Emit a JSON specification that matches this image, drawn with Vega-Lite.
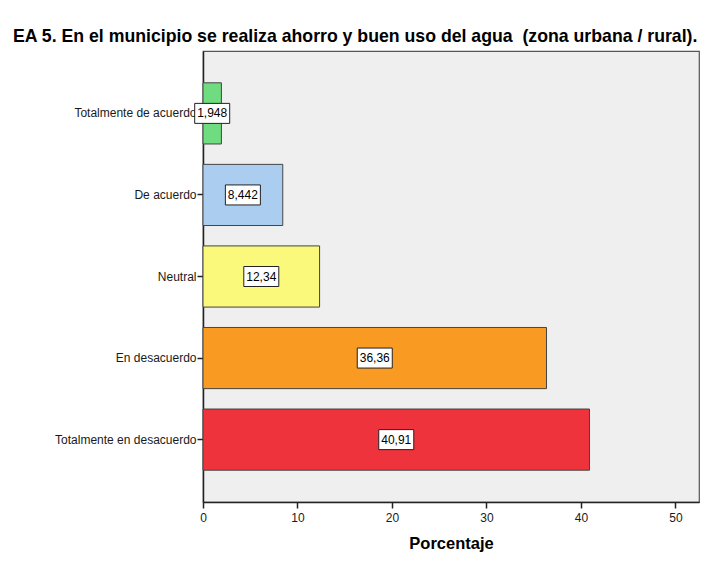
{
  "$schema": "https://vega.github.io/schema/vega-lite/v6.json",
  "autosize": "none",
  "width": 496,
  "height": 451,
  "padding": {"left": 203, "top": 51, "right": 3, "bottom": 63},
  "background": "white",
  "title": {
    "text": "EA 5. En el municipio se realiza ahorro y buen uso del agua \u00a0(zona urbana / rural).",
    "anchor": "start",
    "frame": "group",
    "dx": -190,
    "dy": 19,
    "offset": 10,
    "baseline": "alphabetic",
    "font": "Liberation Sans",
    "fontSize": 17.7,
    "fontWeight": "bold",
    "color": "#000000"
  },
  "config": {
    "view": {"fill": "#efefef", "stroke": "#555555", "strokeWidth": 1.2},
    "font": "Liberation Sans"
  },
  "data": {
    "values": [
      {"respuesta": "Totalmente de acuerdo", "porcentaje": 1.948, "etiqueta": "1,948"},
      {"respuesta": "De acuerdo", "porcentaje": 8.442, "etiqueta": "8,442"},
      {"respuesta": "Neutral", "porcentaje": 12.34, "etiqueta": "12,34"},
      {"respuesta": "En desacuerdo", "porcentaje": 36.36, "etiqueta": "36,36"},
      {"respuesta": "Totalmente en desacuerdo", "porcentaje": 40.91, "etiqueta": "40,91"}
    ]
  },
  "encoding": {
    "y": {
      "field": "respuesta",
      "type": "nominal",
      "sort": ["Totalmente de acuerdo", "De acuerdo", "Neutral", "En desacuerdo", "Totalmente en desacuerdo"],
      "scale": {"paddingInner": 0.25, "paddingOuter": 0.39},
      "axis": {
        "title": null,
        "labelFont": "Liberation Sans",
        "labelFontSize": 12,
        "labelColor": "#1a1a1a",
        "labelPadding": 1,
        "tickSize": 6,
        "tickColor": "#222222",
        "tickWidth": 1.5,
        "domainColor": "#222222",
        "domainWidth": 1.5,
        "labelLimit": 300
      }
    }
  },
  "layer": [
    {
      "mark": {"type": "bar", "stroke": "#444444", "strokeWidth": 1},
      "encoding": {
        "x": {
          "field": "porcentaje",
          "type": "quantitative",
          "scale": {"domain": [0, 52.5], "nice": false},
          "axis": {
            "title": "Porcentaje",
            "titleFont": "Liberation Sans",
            "titleFontSize": 16.5,
            "titleFontWeight": "bold",
            "titleColor": "#000000",
            "titlePadding": 12,
            "values": [0, 10, 20, 30, 40, 50],
            "grid": false,
            "labelFont": "Liberation Sans",
            "labelFontSize": 12,
            "labelColor": "#1a1a1a",
            "labelPadding": 4,
            "labelFlush": false,
            "tickSize": 6,
            "tickColor": "#222222",
            "tickWidth": 1.5,
            "domainColor": "#222222",
            "domainWidth": 1.5
          }
        },
        "color": {
          "field": "respuesta",
          "type": "nominal",
          "legend": null,
          "scale": {
            "domain": ["Totalmente de acuerdo", "De acuerdo", "Neutral", "En desacuerdo", "Totalmente en desacuerdo"],
            "range": ["#6fdc80", "#abcdef", "#fbf97c", "#f99a22", "#ef333c"]
          }
        }
      }
    },
    {
      "encoding": {
        "x": {
          "field": "porcentaje",
          "type": "quantitative",
          "scale": {"domain": [0, 105], "nice": false},
          "axis": null
        }
      },
      "layer": [
        {
          "mark": {
            "type": "point",
            "shape": "M-1,-0.5714H1V0.5714H-1Z",
            "size": 1225,
            "filled": true,
            "fill": "#ffffff",
            "stroke": "#222222",
            "strokeWidth": 1,
            "opacity": 1
          }
        },
        {
          "mark": {
            "type": "text",
            "font": "Liberation Sans",
            "fontSize": 12,
            "color": "#000000",
            "align": "center",
            "baseline": "middle"
          },
          "encoding": {"text": {"field": "etiqueta"}}
        }
      ]
    }
  ],
  "resolve": {"scale": {"x": "independent"}}
}
